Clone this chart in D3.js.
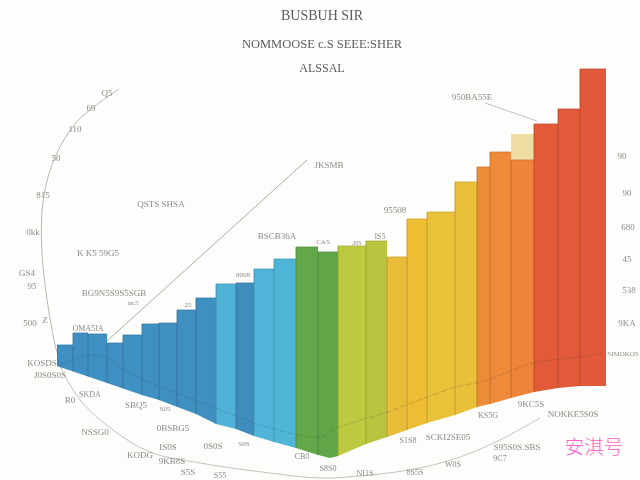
<!DOCTYPE html>
<html><head><meta charset="utf-8">
<script src="https://cdn.jsdelivr.net/npm/d3@7"></script>
<style>html,body{margin:0;padding:0;background:#fdfdfb;overflow:hidden}svg{display:block}</style>
</head><body><div id="c"></div>
<script>
// ---- data (chart units) ----
const barEdges = [0,16,31,50,66,85,102,120,139,159,179,197,217,239,261,281,309,330,350,370,398,420,433,454,477,501,523,549];
const barValues = [113,125,124,115,123,134,135,148,160,174,175,189,199,211,206,212,217,201,239,246,276,291,306,298,334,349,389];
const ghostEdges = [454,477];
const ghostValues = [324];
const floorEdges = [0,50,85,102,139,159,179,197,217,239,261,273,281,309,330,350,370,398,420,433,454,477,501,523,549];
const floorValues = [92,75,63,58,44,34,29,22,16,10,3,0,2,14,21,28,35,43,51,54,60,66,70,72,72];
const trendEdges = [2,41,76,156,210,263,280,330,396,430,476,523,546];
const trendValues = [93,103,83,51,31,21,30,46,70,78,95,101,105];
const palette = ["#3f8fc2","#3f8fc3","#3f90c2","#3f8fc2","#3f90c3","#3f8fc0","#3f8fc0","#3f8fc0","#3f8fc0","#50b1d6","#3f8dbc","#50b5d8","#4fb6d8","#62a84a","#60a648","#bdc93f","#b9c53f","#e8bb38","#edbd33","#eac23a","#eac03a","#ee8d38","#ee8a3a","#ef8339","#e35a38","#e35a3a","#e2583a"];
const arcX = [62,54,42,44,56,74,91,119];
const arcY = [369,340,253,195,155,125,109,89];
const lowerArcX = [60,80,113,150,200,270,320,370,420,460,500,540];
const lowerArcY = [366,400,430,452,463,473,478,475,468,457,440,418];
const leaderA = [[107,341],[307,160]];
const leaderB = [[485,103],[537,121]];
const titleLines = ["BUSBUH  SIR","NOMMOOSE c.S SEEE:SHER","ALSSAL"];
const titleY = [15,43,67];
const titleSize = [14,12.5,12];
const tickLabels = ["Q5","69","110","50","815","0kk","GS4","95","500","Z","90","90","680","45","538","9KA","SIMOKOS"];
const tickX = [107,91,75,56,43,33,27,32,30,45,622,627,628,627,629,627,623];
const tickY = [93,108,129,158,195,232,273,286,323,320,156,193,227,259,290,323,353];
const noteLabels = ["QSTS SHSA","K K5 59G5","BG9N5S9S5SGB","nn.5","OMA5IA","8008","25","BSCB36A","JKSMB","950BA55E","95508","IS5","20S","CAS","KOSDS","J0S0S0S","SKDA","R0","SBQ5","S05","NSSG0","0BSBG5","0S0S","IS0S","KODG","9KB8S","S0S","S5S","S55","CB0","S8S0","NI1S","9KC5S","KS5G","NOKKE5S0S","S1S8","SCKI2SE05","S95S0S.SBS","9C7","8S5S","W0S"];
const noteX = [161,98,114,133,88,243,188,277,329,472,395,380,357,323,42,50,90,70,136,165,95,173,213,168,140,172,244,188,220,302,328,365,531,488,573,408,448,517,500,415,453];
const noteY = [204,253,293,302,328,274,304,236,165,97,210,236,242,241,363,375,394,400,405,408,432,428,446,447,455,461,443,472,475,456,468,473,404,415,414,440,437,447,458,472,464];
const noteSize = [9,9,9,6,8,7,7,9,9,9,9,8,6,7,9,9,8,9,9,7,9,9,9,9,9,9,7,9,8,8,8,8,9,8,9,8,9,9,8,8,8];
const watermark = "安淇号";

// ---- drawing ----
const W = 640, H = 480;
const x = d3.scaleLinear().domain([0,549]).range([57,606]);
const y = d3.scaleLinear().domain([0,400]).range([458,58]);
const svg = d3.select("#c").append("svg").attr("width",W).attr("height",H);
svg.append("rect").attr("width",W).attr("height",H).attr("fill","#fdfdfb");

const defs = svg.append("defs");
const soft = defs.append("filter").attr("id","soft").attr("x","-10%").attr("y","-30%").attr("width","120%").attr("height","160%");
soft.append("feGaussianBlur").attr("stdDeviation",0.4);

const floor = floorEdges.map((e,i)=>[x(e),y(floorValues[i])]);
const clipLine = d3.line();
defs.append("clipPath").attr("id","floorClip").append("path")
  .attr("d", clipLine([[x(0),0],...floor,[x(549),0]])+"Z");

const lineGen = d3.line().curve(d3.curveCatmullRom.alpha(0.5));
const plain = d3.line();

// arcs behind bars
svg.append("path").attr("d",lineGen(d3.zip(arcX,arcY))).attr("fill","none").attr("stroke","#b8b8b2").attr("stroke-width",1);
svg.append("path").attr("d",lineGen(d3.zip(lowerArcX,lowerArcY))).attr("fill","none").attr("stroke","#c4c4be").attr("stroke-width",1);
svg.append("path").attr("d",plain(leaderA)).attr("fill","none").attr("stroke","#9aa99a").attr("stroke-width",0.9);
svg.append("path").attr("d",plain(leaderB)).attr("fill","none").attr("stroke","#b4b4ae").attr("stroke-width",0.8);

const g = svg.append("g").attr("clip-path","url(#floorClip)");
g.selectAll("rect.bar").data(barValues).join("rect").attr("class","bar")
  .attr("x",(d,i)=>x(barEdges[i]))
  .attr("width",(d,i)=>x(barEdges[i+1])-x(barEdges[i]))
  .attr("y",d=>y(d))
  .attr("height",d=>y(0)-y(d))
  .attr("fill",(d,i)=>palette[i]);
g.selectAll("rect.ghost").data(ghostValues).join("rect").attr("class","ghost")
  .attr("x",x(ghostEdges[0])).attr("width",x(ghostEdges[1])-x(ghostEdges[0]))
  .attr("y",d=>y(d)).attr("height",d=>y(barValues[23])-y(d))
  .attr("fill","#efdca2");
g.selectAll("line.sep").data(barValues).join("line").attr("class","sep")
  .attr("x1",(d,i)=>x(barEdges[i])).attr("x2",(d,i)=>x(barEdges[i]))
  .attr("y1",(d,i)=>y(d)).attr("y2",y(0))
  .attr("stroke",(d,i)=>d3.color(palette[i]).darker(0.7)).attr("stroke-width",0.8);
g.selectAll("line.cap").data(barValues).join("line").attr("class","cap")
  .attr("x1",(d,i)=>x(barEdges[i])).attr("x2",(d,i)=>x(barEdges[i+1]))
  .attr("y1",d=>y(d)).attr("y2",d=>y(d))
  .attr("stroke",(d,i)=>d3.color(palette[i]).darker(0.4)).attr("stroke-width",0.8);

// thin trend line over the bars
svg.append("path").attr("d",lineGen(d3.zip(trendEdges.map(x),trendValues.map(y))))
  .attr("fill","none").attr("stroke","#3a3a3a").attr("stroke-opacity",0.3).attr("stroke-width",0.7).attr("stroke-dasharray","7 1.5");

// text
const txt = svg.append("g").attr("filter","url(#soft)").attr("font-family","'Liberation Serif',serif").attr("text-anchor","middle");
txt.selectAll("text.title").data(titleLines).join("text").attr("class","title")
  .attr("x",322).attr("y",(d,i)=>titleY[i]+5).attr("font-size",(d,i)=>titleSize[i]).attr("fill","#5c5c5c").text(d=>d);
txt.selectAll("text.tick").data(tickLabels).join("text").attr("class","tick")
  .attr("x",(d,i)=>tickX[i]).attr("y",(d,i)=>tickY[i]+3)
  .attr("font-size",d=>d.length>4?7:9).attr("fill","#8c8c88").text(d=>d);
txt.selectAll("text.note").data(noteLabels).join("text").attr("class","note")
  .attr("x",(d,i)=>noteX[i]).attr("y",(d,i)=>noteY[i]+3).attr("font-size",(d,i)=>noteSize[i]).attr("fill","#8a8a86").text(d=>d);

svg.append("text").attr("x",594).attr("y",454).attr("text-anchor","middle")
  .attr("font-family","'Noto Sans CJK SC',sans-serif").attr("font-weight",300).attr("font-size",19.5).attr("fill","#ff62c8").text(watermark);
</script></body></html>
